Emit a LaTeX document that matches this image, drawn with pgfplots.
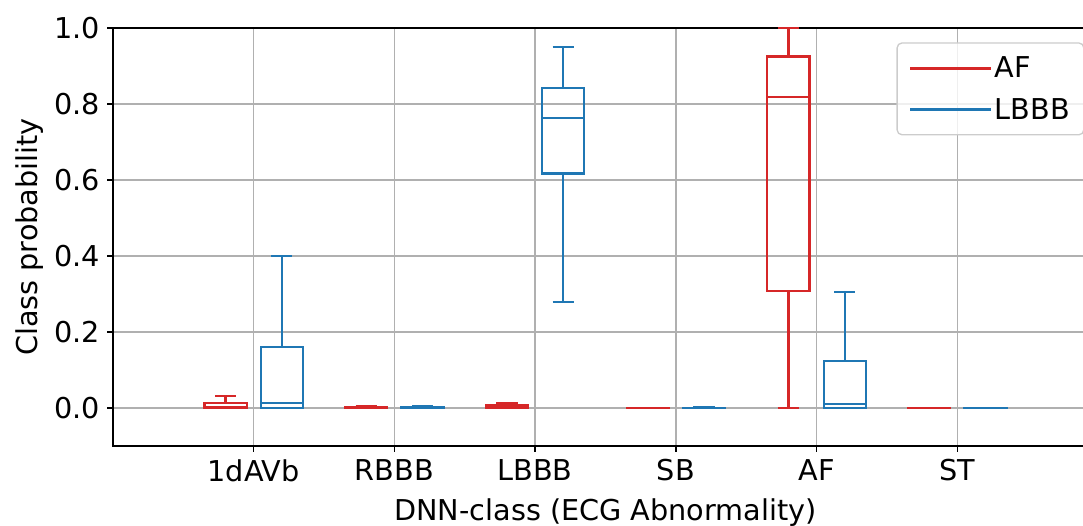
\documentclass[border=0pt]{standalone}
\usepackage{fontspec}
\setmainfont{DejaVu Sans}
\usepackage{pgfplots}
\usepackage{pgfplotstable}
\usepgfplotslibrary{statistics}
\pgfplotsset{compat=1.18}

\definecolor{afred}{HTML}{D62728}
\definecolor{lbbbblue}{HTML}{1F77B4}
\definecolor{gridgray}{HTML}{B0B0B0}

\newcommand{\bigfont}{\fontsize{28.7pt}{34pt}\selectfont}

% Box statistics per DNN class (rows: 1dAVb, RBBB, LBBB, SB, AF, ST)
\pgfplotstableread{
lw   lq     med    uq     uw
0    0.0005 0.003  0.014  0.032
0    0      0.001  0.003  0.005
0    0.0005 0.002  0.008  0.014
0    0      0      0.0005 0.001
0    0.307  0.819  0.925  0.999
0    0      0      0.0005 0.001
}\tabAF

\pgfplotstableread{
lw   lq     med    uq     uw
0    0.001  0.014  0.161  0.400
0    0      0.0005 0.002  0.004
0.28 0.617  0.763  0.843  0.951
0    0      0      0.001  0.002
0    0.001  0.010  0.124  0.306
0    0      0      0.0005 0.001
}\tabLBBB

\pgfplotsset{
  afbox/.style={afred, solid, line width=2.2pt},
  lbbbbox/.style={lbbbblue, solid, line width=2.2pt},
}

% one box: #1 table, #2 row, #3 offset from category, #4 style
\newcommand{\boxrow}[4]{%
  \pgfplotstablegetelem{#2}{lw}\of#1\edef\bLW{\pgfplotsretval}%
  \pgfplotstablegetelem{#2}{lq}\of#1\edef\bLQ{\pgfplotsretval}%
  \pgfplotstablegetelem{#2}{med}\of#1\edef\bMED{\pgfplotsretval}%
  \pgfplotstablegetelem{#2}{uq}\of#1\edef\bUQ{\pgfplotsretval}%
  \pgfplotstablegetelem{#2}{uw}\of#1\edef\bUW{\pgfplotsretval}%
  \edef\doplot{\noexpand\addplot[#4, forget plot,
    boxplot prepared={draw position=#2#3, draw direction=y,
      lower whisker=\bLW, lower quartile=\bLQ, median=\bMED,
      upper quartile=\bUQ, upper whisker=\bUW,
      box extend=0.3, whisker extend=0.15}] coordinates {};}%
  \doplot
}

\begin{document}
\begin{tikzpicture}
\begin{axis}[
  at={(0,0)}, anchor=south west,
  scale only axis, width=985pt, height=418pt,
  xmin=-1, xmax=6, ymin=-0.1, ymax=1.0,
  xtick={0,1,2,3,4,5},
  xticklabels={1dAVb,RBBB,LBBB,SB,AF,ST},
  ytick={0,0.2,0.4,0.6,0.8,1.0},
  /pgf/number format/assume math mode=true,
  yticklabel style={/pgf/number format/fixed, /pgf/number format/fixed zerofill,
    /pgf/number format/precision=1, xshift=-4pt},
  xticklabel style={yshift=-4pt},
  ticklabel style={font=\bigfont},
  label style={font=\bigfont},
  xlabel={DNN-class (ECG Abnormality)},
  ylabel={Class probability},
  xlabel style={at={(axis description cs:0.5,0)}, anchor=base, yshift=-74pt},
  ylabel style={at={(axis description cs:0,0.5)}, anchor=base, yshift=75pt},
  grid=major,
  major grid style={gridgray, line width=1.33pt},
  axis line style={black, line width=1.33pt},
  tick align=outside, tick pos=left,
  major tick length=5.8pt,
  every tick/.style={black, line width=1.33pt},
  legend style={at={(0.9863,0.9658)}, anchor=north east,
    draw=black!20, line width=1.33pt, rounded corners=5pt,
    fill=white, fill opacity=0.8, text opacity=1,
    font=\bigfont, inner xsep=12pt, inner ysep=12pt,
    row sep=15pt, cells={anchor=west}},
  legend image code/.code={\draw[#1] (0pt,0pt) -- (63pt,0pt); \path (0pt,0pt) -- (81pt,0pt);},
]
\foreach \r in {0,...,5}{
  \boxrow{\tabAF}{\r}{-0.2}{afbox}
  \boxrow{\tabLBBB}{\r}{+0.2}{lbbbbox}
}
\addlegendimage{afred, line width=2.7pt}
\addlegendentry{AF}
\addlegendimage{lbbbblue, line width=2.7pt}
\addlegendentry{LBBB}
\end{axis}
\pgfresetboundingbox
\path (-113pt,-79pt) rectangle (970pt,446pt);
\end{tikzpicture}
\end{document}
